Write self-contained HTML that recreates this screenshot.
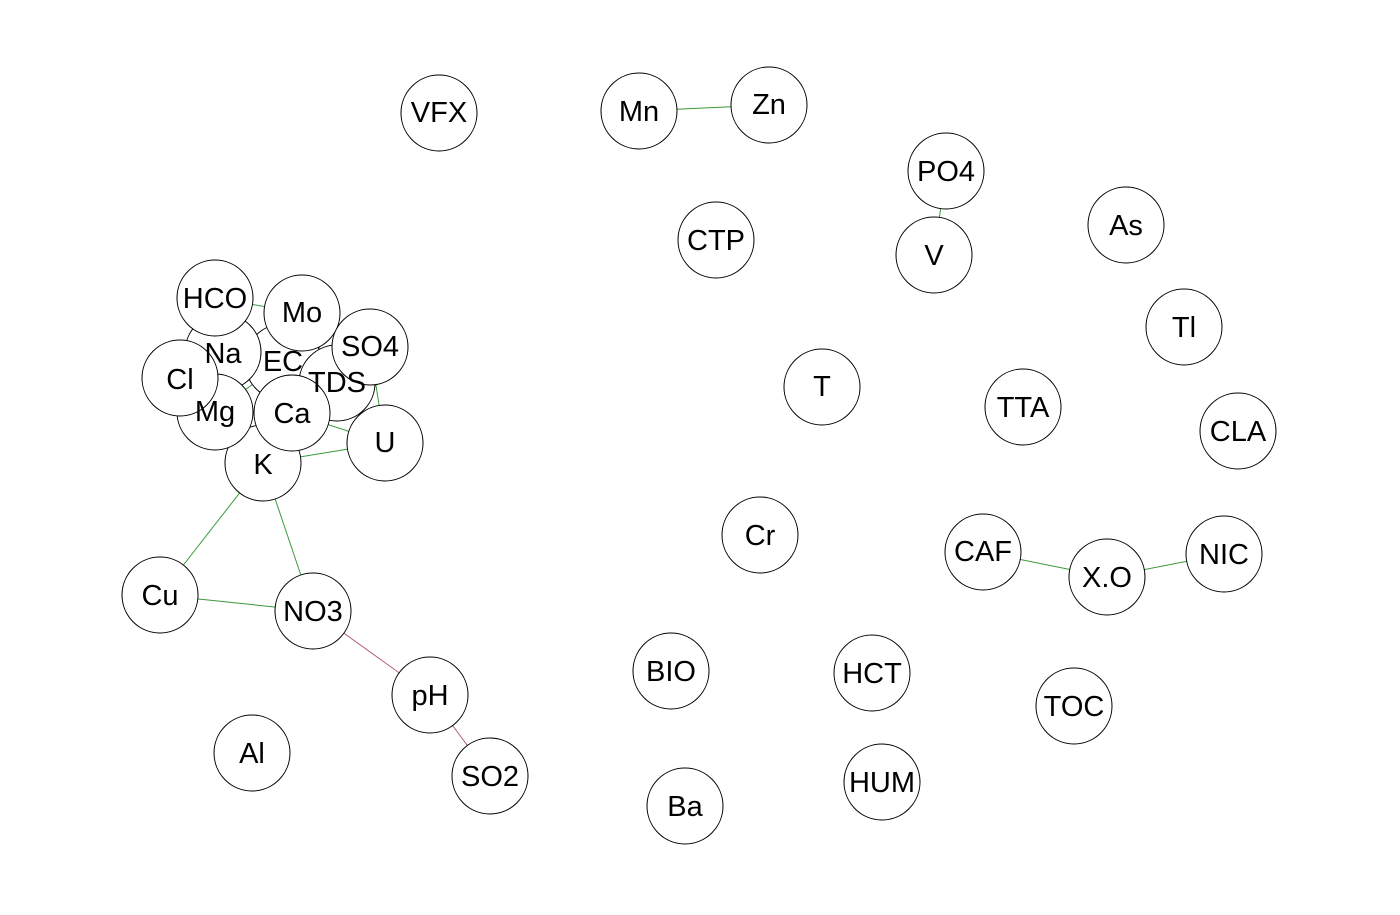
<!DOCTYPE html>
<html><head><style>html,body{margin:0;padding:0;background:#fff}</style></head><body>
<svg width="1400" height="910" xmlns="http://www.w3.org/2000/svg" font-family="Liberation Sans, Arial, sans-serif" font-size="29">
<g stroke="#3a9a3a" stroke-width="1">
<line x1="639" y1="111" x2="769" y2="105"/>
<line x1="946" y1="171" x2="934" y2="255"/>
<line x1="983" y1="552" x2="1107" y2="577"/>
<line x1="1107" y1="577" x2="1224" y2="554"/>
<line x1="263" y1="463" x2="160" y2="595"/>
<line x1="263" y1="463" x2="313" y2="611"/>
<line x1="160" y1="595" x2="313" y2="611"/>
<line x1="263" y1="463" x2="385" y2="443"/>
<line x1="292" y1="413" x2="385" y2="443"/>
<line x1="337" y1="383" x2="385" y2="443"/>
<line x1="370" y1="347" x2="385" y2="443"/>
<line x1="215" y1="298" x2="302" y2="313"/>
<line x1="215" y1="298" x2="283" y2="362"/>
<line x1="223" y1="352" x2="292" y2="413"/>
<line x1="215" y1="412" x2="283" y2="362"/>
<line x1="302" y1="313" x2="337" y2="383"/>
</g>
<g stroke="#b06070" stroke-width="1">
<line x1="313" y1="611" x2="430" y2="695"/>
<line x1="430" y1="695" x2="490" y2="776"/>
</g>
<g fill="#fff" stroke="#000" stroke-width="1">
<circle cx="283" cy="362" r="38"/>
<circle cx="337" cy="383" r="38"/>
<circle cx="223" cy="352" r="38"/>
<circle cx="263" cy="463" r="38"/>
<circle cx="215" cy="412" r="38"/>
<circle cx="292" cy="413" r="38"/>
<circle cx="180" cy="378" r="38"/>
<circle cx="215" cy="298" r="38"/>
<circle cx="302" cy="313" r="38"/>
<circle cx="370" cy="347" r="38"/>
<circle cx="385" cy="443" r="38"/>
<circle cx="439" cy="113" r="38"/>
<circle cx="639" cy="111" r="38"/>
<circle cx="769" cy="105" r="38"/>
<circle cx="946" cy="171" r="38"/>
<circle cx="934" cy="255" r="38"/>
<circle cx="1126" cy="225" r="38"/>
<circle cx="716" cy="240" r="38"/>
<circle cx="1184" cy="327" r="38"/>
<circle cx="822" cy="387" r="38"/>
<circle cx="1023" cy="407" r="38"/>
<circle cx="1238" cy="431" r="38"/>
<circle cx="760" cy="535" r="38"/>
<circle cx="983" cy="552" r="38"/>
<circle cx="1107" cy="577" r="38"/>
<circle cx="1224" cy="554" r="38"/>
<circle cx="160" cy="595" r="38"/>
<circle cx="313" cy="611" r="38"/>
<circle cx="430" cy="695" r="38"/>
<circle cx="252" cy="753" r="38"/>
<circle cx="490" cy="776" r="38"/>
<circle cx="671" cy="671" r="38"/>
<circle cx="872" cy="673" r="38"/>
<circle cx="1074" cy="706" r="38"/>
<circle cx="882" cy="782" r="38"/>
<circle cx="685" cy="806" r="38"/>
</g>
<g text-anchor="middle" dominant-baseline="central" fill="#000">
<text x="283" y="362">EC</text><text x="337" y="383">TDS</text><text x="223" y="354">Na</text>
<text x="263" y="465">K</text><text x="215" y="412">Mg</text><text x="292" y="414">Ca</text>
<text x="180" y="380">Cl</text><text x="215" y="299">HCO</text><text x="302" y="313">Mo</text>
<text x="370" y="347">SO4</text><text x="385" y="443">U</text>
<text x="439" y="113">VFX</text><text x="639" y="112">Mn</text><text x="769" y="105">Zn</text>
<text x="946" y="172">PO4</text><text x="934" y="256">V</text><text x="1126" y="226">As</text>
<text x="716" y="241">CTP</text><text x="1184" y="328">Tl</text><text x="822" y="387">T</text>
<text x="1023" y="408">TTA</text><text x="1238" y="432">CLA</text><text x="760" y="536">Cr</text>
<text x="983" y="552">CAF</text><text x="1107" y="578">X.O</text><text x="1224" y="555">NIC</text>
<text x="160" y="596">Cu</text><text x="313" y="612">NO3</text><text x="430" y="696">pH</text>
<text x="252" y="754">Al</text><text x="490" y="777">SO2</text><text x="671" y="672">BIO</text>
<text x="872" y="674">HCT</text><text x="1074" y="707">TOC</text><text x="882" y="783">HUM</text>
<text x="685" y="807">Ba</text>
</g>
</svg>
</body></html>
